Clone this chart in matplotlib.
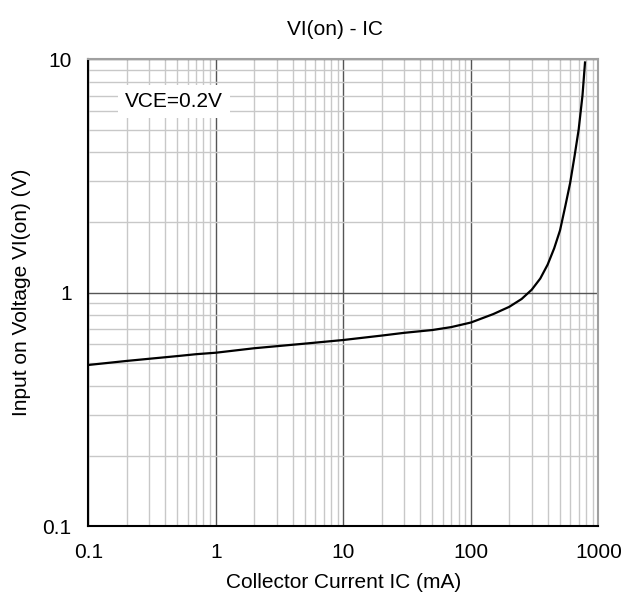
import matplotlib.pyplot as plt
from matplotlib.ticker import LogLocator, FixedLocator

plt.rcParams['font.family'] = ['Liberation Sans', 'DejaVu Sans']

# Collector current (mA) and input on-voltage (V)
ic_ma = [0.1, 0.2, 0.5, 0.7, 1, 2, 5, 10, 20, 30, 50, 70, 100, 150, 200,
         250, 300, 350, 400, 450, 500, 550, 600, 650, 700, 750, 785]
vi_on = [0.49, 0.51, 0.535, 0.545, 0.553, 0.578, 0.605, 0.627, 0.655, 0.673,
         0.692, 0.712, 0.745, 0.81, 0.87, 0.94, 1.03, 1.15, 1.32, 1.55, 1.85,
         2.35, 2.95, 3.85, 5.0, 7.0, 9.7]

x_ticks = [0.1, 1, 10, 100, 1000]
x_labels = ["0.1", "1", "10", "100", "1000"]
y_ticks = [0.1, 1, 10]
y_labels = ["0.1", "1", "10"]

fig = plt.figure(figsize=(6.24, 6.06), dpi=100)
ax = fig.add_axes([0.1415, 0.132, 0.8175, 0.770])

ax.plot(ic_ma, vi_on, color="black", lw=1.6, zorder=3)

ax.set_xscale("log")
ax.set_yscale("log")
ax.set_xlim(0.1, 1000)
ax.set_ylim(0.1, 10)

ax.xaxis.set_major_locator(FixedLocator(x_ticks))
ax.yaxis.set_major_locator(FixedLocator(y_ticks))
ax.set_xticklabels(x_labels)
ax.set_yticklabels(y_labels)
ax.xaxis.set_minor_locator(LogLocator(base=10, subs=range(2, 10), numticks=20))
ax.yaxis.set_minor_locator(LogLocator(base=10, subs=range(2, 10), numticks=20))
ax.tick_params(which="both", length=0, labelsize=15, colors="black")
ax.tick_params(axis="x", pad=12)
ax.tick_params(axis="y", pad=12)

ax.grid(which="minor", color="#c8c8c8", lw=1.0, zorder=0)
ax.grid(which="major", color="#555555", lw=1.0, zorder=1)

for side in ["left", "bottom"]:
    ax.spines[side].set_color("black")
    ax.spines[side].set_linewidth(1.5)
for side in ["top", "right"]:
    ax.spines[side].set_color("#a0a0a0")
    ax.spines[side].set_linewidth(1.5)

fig.text(0.537, 0.952, "VI(on) - IC", fontsize=15, ha="center", va="center")
ax.set_xlabel("Collector Current IC (mA)", fontsize=15, labelpad=8)
ax.set_ylabel("Input on Voltage VI(on) (V)", fontsize=15, labelpad=8)

ax.text(0.47, 6.6, "VCE=0.2V", fontsize=15, ha="center", va="center", zorder=4,
        bbox=dict(facecolor="white", edgecolor="none", pad=5))

plt.savefig("out.png", dpi=100)
